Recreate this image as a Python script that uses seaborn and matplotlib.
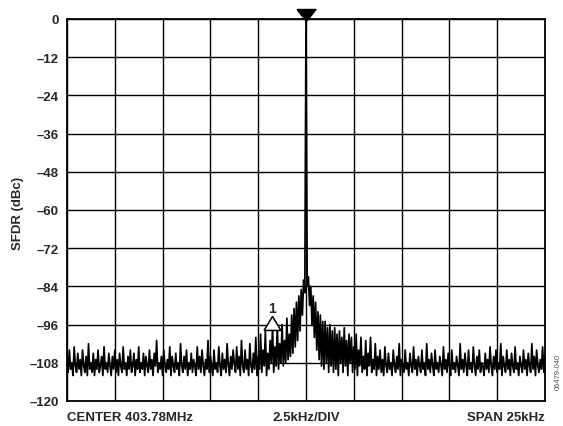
import numpy as np
import pandas as pd
import matplotlib
matplotlib.use("Agg")
import matplotlib.pyplot as plt
import matplotlib.transforms as mtransforms
import seaborn as sns

# Sweep settings
span_khz = 25.0
divisions = 10
center_label = "CENTER 403.78MHz"
rbw_label = "2.5kHz/DIV"
span_label = "SPAN 25kHz"

# Trace segments (dBc), left to right across the 401-point sweep
floor_left = [
    -106, -111, -104, -110, -108, -112, -103, -109, -111, -105, -110, -107, -112, -104, -109, -111, -106, -112, -102, -110,
    -108, -111, -105, -112, -107, -110, -104, -111, -109, -106, -112, -103, -110, -108, -111, -105, -109, -112, -106, -110,
    -104, -111, -107, -112, -105, -109, -111, -103, -110, -108, -112, -106, -110, -104, -111, -109, -105, -112, -107, -110,
    -103, -111, -108, -110, -105, -112, -106, -109, -111, -104, -110, -107, -112, -105, -109, -101, -111, -108, -110, -106,
    -112, -104, -109, -111, -107, -110, -103, -112, -106, -109, -111, -105, -110, -108, -112, -102, -109, -111, -106, -110,
    -104, -112, -108, -110, -105, -111, -107, -109, -112, -103, -110, -106, -111, -104, -109, -112, -107, -110, -101, -111,
    -106, -109, -112, -104, -110, -108, -111, -103, -109, -112, -105, -110, -107, -111, -102, -109, -112, -106, -110, -104,
]
skirt_left = [
    -108, -111, -103, -110, -106, -112, -101, -109, -111, -104, -110, -107, -112, -102, -109, -111, -105, -110, -100, -112,
    -106, -110, -99, -111, -104, -109, -98, -112, -105, -110, -101, -108, -97, -111, -103, -109, -96, -110, -102, -108,
    -96, -109, -101, -108, -94, -107, -99, -106, -93, -105, -91, -103, -89, -101, -87, -98, -85, -93, -82, -86,
]
carrier = [0]
skirt_right = [
    -84, -81, -90, -84, -96, -87, -100, -89, -104, -92, -107, -93, -109, -95, -110, -95, -108, -97, -111,
    -96, -109, -98, -111, -97, -110, -99, -112, -98, -108,
    -100, -111, -97, -109, -101, -112, -99, -108, -100, -111,
    -103, -110, -99, -112, -104, -109, -100, -111, -106, -110,
    -101, -112, -105, -109, -100, -111, -107, -110, -102, -112, -106,
]
floor_right = [
    -110, -104, -111, -107, -112, -103, -109, -111, -105, -110, -108, -112, -104, -109, -111, -106, -110, -102, -112, -107,
    -109, -111, -104, -110, -108, -112, -105, -109, -111, -103, -110, -107, -112, -106, -109, -111, -104, -110, -108, -112,
    -102, -110, -107, -111, -105, -109, -112, -104, -110, -108, -111, -106, -109, -112, -103, -110, -107, -111, -105, -109,
    -112, -104, -110, -108, -111, -106, -109, -112, -102, -110, -107, -111, -105, -109, -112, -104, -110, -108, -111, -103,
    -109, -112, -106, -110, -104, -111, -108, -109, -112, -105, -110, -107, -111, -103, -109, -112, -106, -110, -104, -111,
    -108, -110, -102, -112, -106, -109, -111, -104, -110, -107, -112, -105, -109, -111, -103, -110, -108, -112, -106, -109,
    -111, -104, -110, -107, -112, -105, -109, -111, -102, -110, -106, -112, -104, -109, -111, -107, -110, -103, -111, -106,
]

# Markers: peak marker on the carrier, delta marker 1 on the skirt
marker1_khz = -1.8
marker1_db = -95.6

yticks = list(range(0, -121, -12))

sfdr = np.array(floor_left + skirt_left + carrier + skirt_right + floor_right, dtype=float)
freq = np.linspace(-span_khz / 2, span_khz / 2, len(sfdr))
df = pd.DataFrame({"freq_khz": freq, "sfdr_dbc": sfdr})
peak_idx = int(np.argmax(sfdr))

sns.set_theme(style="white")
plt.rcParams["font.family"] = ["Liberation Sans", "DejaVu Sans"]
plt.rcParams["font.weight"] = "bold"

fig = plt.figure(figsize=(5.63, 4.27), dpi=100)
ax = fig.add_axes([67 / 563, 25 / 427, 478 / 563, 382 / 427])

sns.lineplot(data=df, x="freq_khz", y="sfdr_dbc", ax=ax, color="black",
             linewidth=1.25, estimator=None, sort=False, zorder=3)

ax.set_xlim(-span_khz / 2, span_khz / 2)
ax.set_ylim(-120, 0)
ax.set_xticks(np.linspace(-span_khz / 2, span_khz / 2, divisions + 1))
ax.set_xticklabels([])
ax.set_yticks(yticks)
ax.set_yticklabels([str(v).replace("-", "\u2013") for v in yticks],
                   fontsize=9.5, fontweight="bold")
ax.tick_params(axis="both", length=0, pad=6)
ax.grid(True, color="black", linewidth=1.0)
for s in ax.spines.values():
    s.set_color("black")
    s.set_linewidth(1.3)
ax.set_xlabel("")
ax.set_ylabel("")

# Peak marker (filled, pointing down) just above the carrier
down_tri = [(-1, 0.63), (1, 0.63), (0, -0.63), (-1, 0.63)]
off = mtransforms.offset_copy(ax.transData, fig=fig, x=0, y=3.2, units="points")
ax.plot([freq[peak_idx]], [0], marker=down_tri, ms=13.7, color="black",
        linestyle="none", transform=off, clip_on=False, zorder=5)

# Delta marker 1 (open triangle)
up_tri = [(-1, -0.82), (1, -0.82), (0, 0.82), (-1, -0.82)]
ax.plot([marker1_khz], [marker1_db], marker=up_tri, ms=12.2, markerfacecolor="white",
        markeredgecolor="black", markeredgewidth=1.1, linestyle="none", zorder=6)
ax.annotate("1", (marker1_khz, marker1_db), xytext=(0, 11), textcoords="offset points",
            ha="center", va="center", fontsize=10, fontweight="bold", zorder=6)

# Sweep annotations under the grid
fig.text(67 / 563, 1 - 418 / 427, center_label, ha="left", va="center", fontsize=9.5, fontweight="bold")
fig.text(306 / 563, 1 - 418 / 427, rbw_label, ha="center", va="center", fontsize=9.5, fontweight="bold")
fig.text(545 / 563, 1 - 418 / 427, span_label, ha="right", va="center", fontsize=9.5, fontweight="bold")

fig.text(18 / 563, 1 - 213 / 427, "SFDR (dBc)", rotation=90, ha="center", va="center",
         fontsize=9.5, fontweight="bold")
fig.text(558 / 563, 1 - 372 / 427, "06479-040", rotation=90, ha="center", va="center",
         fontsize=5.5, fontweight="normal", color="#555555")

fig.savefig("out.png", dpi=100)
